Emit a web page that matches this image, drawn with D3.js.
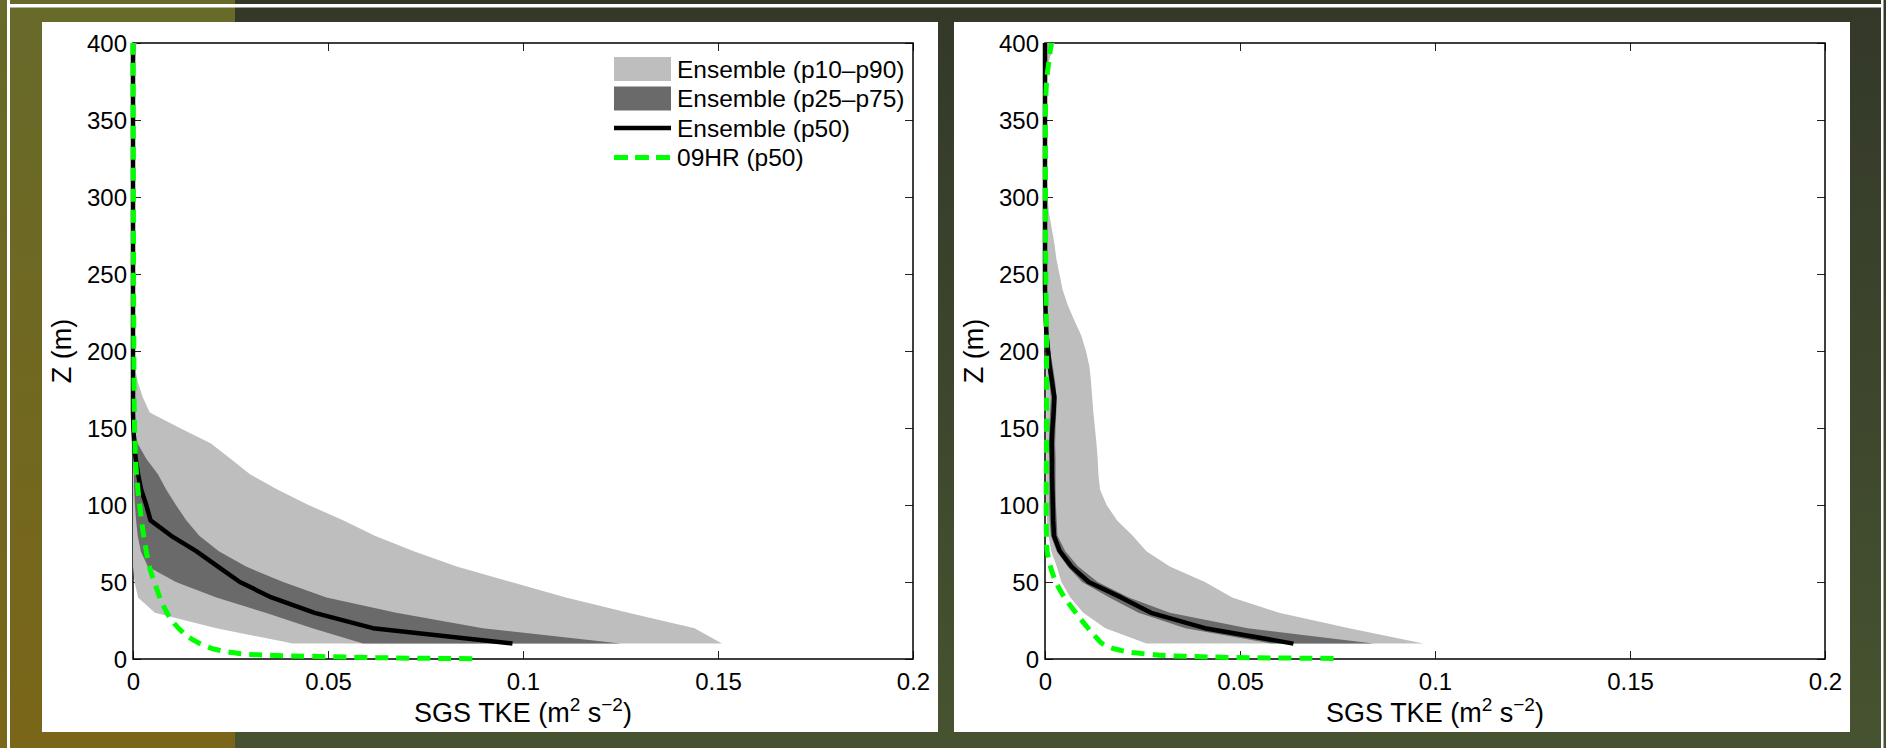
<!DOCTYPE html>
<html lang="en">
<head>
<meta charset="UTF-8">
<title>SGS TKE profiles</title>
<style>
  body { margin: 0; padding: 0; background: #333829; }
  svg { display: block; }
  text { font-family: "Liberation Sans", Arial, Helvetica, sans-serif; fill: #000; }
</style>
</head>
<body>
<svg id="chart" width="1886" height="748"></svg>
<script src="https://d3js.org/d3.v7.min.js"></script>
<script>
// heights of the ensemble statistics (m)
const heights = [10, 20, 30, 40, 50, 60, 70, 80, 90, 100,
  110, 120, 130, 140, 150, 160, 170, 180, 190, 200,
  210, 220, 230, 240, 250, 260, 270, 280, 290, 300,
  310, 320, 330, 340, 350, 360, 370, 380, 390, 400];

// left panel, SGS TKE (m2 s-2)
const leftP10 = [0.041, 0.0214, 0.0056, 0.0013, 0.0004, 0, 0, 0, 0, 0,
  0, 0, 0, 0, 0, 0, 0, 0, 0, 0,
  0, 0, 0, 0, 0, 0, 0, 0, 0, 0,
  0, 0, 0, 0, 0, 0, 0, 0, 0, 0];
const leftP25 = [0.059, 0.046, 0.034, 0.0214, 0.011, 0.0038, 0.002, 0.0012, 0.0008, 0.0005,
  0.0003, 0.0002, 0.0001, 0, 0, 0, 0, 0, 0, 0,
  0, 0, 0, 0, 0, 0, 0, 0, 0, 0,
  0, 0, 0, 0, 0, 0, 0, 0, 0, 0];
const leftP50 = [0.0973, 0.0615, 0.0466, 0.0355, 0.0274, 0.0218, 0.0162, 0.0098, 0.0045, 0.0034,
  0.0021, 0.0013, 0.0007, 0.0003, 0.0001, 0, 0, 0, 0, 0,
  0, 0, 0, 0, 0, 0, 0, 0, 0, 0,
  0, 0, 0, 0, 0, 0, 0, 0, 0, 0];
const leftP75 = [0.125, 0.0897, 0.0675, 0.0496, 0.0385, 0.029, 0.022, 0.017, 0.0137, 0.011,
  0.0085, 0.0064, 0.0034, 0.0012, 0.0004, 0.0001, 0, 0, 0, 0,
  0, 0, 0, 0, 0, 0, 0, 0, 0, 0,
  0, 0, 0, 0, 0, 0, 0, 0, 0, 0];
const leftP90 = [0.151, 0.144, 0.127, 0.111, 0.097, 0.083, 0.072, 0.062, 0.054, 0.045,
  0.037, 0.030, 0.025, 0.020, 0.012, 0.0043, 0.0025, 0.0012, 0.0005, 0.0003,
  0.0003, 0.0003, 0.0003, 0.0003, 0.0003, 0.0003, 0.0003, 0.0003, 0.0003, 0.0003,
  0.0003, 0.0003, 0.0003, 0.0003, 0.0003, 0.0003, 0.0004, 0.0005, 0.0006, 0.0009];

// 09HR run, finer grid near the ground
const leftHrZ = [0.2, 0.5, 1, 1.5, 2, 3, 4, 6, 8, 12, 18, 25, 35, 47, 60, 70, 86, 100, 120, 150, 200, 300, 400];
const leftHrX = [0.087, 0.073, 0.060, 0.050, 0.041, 0.030, 0.026, 0.0215, 0.019, 0.0157, 0.0125, 0.0100, 0.0077, 0.0059, 0.0042, 0.0034, 0.0024, 0.0017, 0.0009, 0.0004, 0.0002, 0.0001, 0];

// right panel
const rightP10 = [0.026, 0.0155, 0.0098, 0.0065, 0.0042, 0.003, 0.0016, 0.0009, 0.0005, 0.0003,
  0.0003, 0.0003, 0.0003, 0.0003, 0.0003, 0.0003, 0.0003, 0.0003, 0.0003, 0.0003,
  0.0003, 0.0003, 0.0003, 0.0003, 0.0003, 0.0001, 0.0001, 0.0001, 0.0001, 0.0001,
  0.0001, 0.0001, 0.0001, 0.0001, 0.0001, 0.0001, 0.0001, 0.0001, 0.0001, 0.0001];
const rightP25 = [0.058, 0.036, 0.024, 0.0165, 0.0095, 0.0058, 0.0030, 0.0015, 0.0012, 0.0011,
  0.0011, 0.0011, 0.0011, 0.0010, 0.0011, 0.0013, 0.0015, 0.0011, 0.0007, 0.0004,
  0.0002, 0, 0, 0, 0, 0, 0, 0, 0, 0,
  0, 0, 0, 0, 0, 0, 0, 0, 0, 0];
const rightP50 = [0.0637, 0.0410, 0.0272, 0.0195, 0.0112, 0.0068, 0.0038, 0.0023, 0.0021, 0.0020,
  0.0019, 0.0018, 0.0018, 0.0017, 0.0019, 0.0022, 0.0024, 0.0018, 0.0012, 0.0008,
  0.0004, 0.0002, 0.0001, 0, 0, 0, 0, 0, 0, 0,
  0, 0, 0, 0, 0, 0, 0, 0, 0, 0];
const rightP75 = [0.0842, 0.052, 0.032, 0.0215, 0.0135, 0.0085, 0.0052, 0.0032, 0.0030, 0.0028,
  0.0027, 0.0027, 0.0027, 0.0026, 0.0027, 0.0029, 0.0030, 0.0026, 0.0020, 0.0013,
  0.0007, 0.0003, 0.0001, 0, 0, 0, 0, 0, 0, 0,
  0, 0, 0, 0, 0, 0, 0, 0, 0, 0];
const rightP90 = [0.097, 0.078, 0.060, 0.048, 0.041, 0.032, 0.026, 0.0225, 0.0185, 0.0158,
  0.0141, 0.0137, 0.0135, 0.0132, 0.0128, 0.0124, 0.0121, 0.0118, 0.0114, 0.0105,
  0.0093, 0.0075, 0.0058, 0.0045, 0.0037, 0.0029, 0.0024, 0.0017, 0.0010, 0.0007,
  0.0005, 0.0005, 0.0005, 0.0005, 0.0005, 0.0005, 0.0005, 0.0006, 0.0012, 0.0025];

const rightHrZ = [0.4, 0.7, 1, 1.5, 2, 3, 4, 6, 10, 13, 22, 32, 40, 50, 60, 75, 100, 150, 200, 250, 300, 350, 375, 390, 400];
const rightHrX = [0.074, 0.058, 0.048, 0.040, 0.033, 0.027, 0.023, 0.0188, 0.0147, 0.0135, 0.0104, 0.0073, 0.0050, 0.0028, 0.0014, 0.0004, 0.0003, 0.0004, 0.0004, 0.0002, 0.0001, 0.0001, 0.0004, 0.0011, 0.0016];

const xTicks = [0, 0.05, 0.1, 0.15, 0.2];
const xTickLabels = ["0", "0.05", "0.1", "0.15", "0.2"];
const yTicks = [0, 50, 100, 150, 200, 250, 300, 350, 400];
const legendLabels = ["Ensemble (p10\u2013p90)", "Ensemble (p25\u2013p75)", "Ensemble (p50)", "09HR (p50)"];

const svg = d3.select("#chart");
const W = 1886, H = 748;

// background frame
const defs = svg.append("defs");
const g1 = defs.append("linearGradient").attr("id", "bgLeft").attr("x1", 0).attr("y1", 0).attr("x2", 0).attr("y2", 1);
g1.append("stop").attr("offset", "0%").attr("stop-color", "#676a2a");
g1.append("stop").attr("offset", "100%").attr("stop-color", "#7a6618");
const g2 = defs.append("linearGradient").attr("id", "bgRight").attr("x1", 0).attr("y1", 0).attr("x2", 0).attr("y2", 1);
g2.append("stop").attr("offset", "0%").attr("stop-color", "#333829");
g2.append("stop").attr("offset", "100%").attr("stop-color", "#475330");

svg.append("rect").attr("x", 0).attr("y", 0).attr("width", 235).attr("height", H).attr("fill", "url(#bgLeft)");
svg.append("rect").attr("x", 235).attr("y", 0).attr("width", W - 235).attr("height", H).attr("fill", "url(#bgRight)");
svg.append("rect").attr("x", 7).attr("y", 0).attr("width", 3).attr("height", H).attr("fill", "#fff");
svg.append("rect").attr("x", 7).attr("y", 4).attr("width", 1876).attr("height", 3.5).attr("fill", "#fff");
svg.append("rect").attr("x", 1881).attr("y", 0).attr("width", 2.5).attr("height", H).attr("fill", "#fff");

const panels = [
  { left: 42, p10: leftP10, p25: leftP25, p50: leftP50, p75: leftP75, p90: leftP90, hrZ: leftHrZ, hrX: leftHrX, legend: true },
  { left: 954, p10: rightP10, p25: rightP25, p50: rightP50, p75: rightP75, p90: rightP90, hrZ: rightHrZ, hrX: rightHrX, legend: false }
];

const plotW = 780, plotH = 616;
const x = d3.scaleLinear().domain([0, 0.2]).range([0, plotW]);
const y = d3.scaleLinear().domain([0, 400]).range([plotH, 0]);

const band = d3.area().x0(d => x(d.lo)).x1(d => x(d.hi)).y(d => y(d.z));
const prof = d3.line().x(d => x(d.v)).y(d => y(d.z));
const hrLine = d3.line().x(d => x(d.v)).y(d => y(d.z)).curve(d3.curveMonotoneY);

const lightGray = "#bebebe", darkGray = "#6a6a6a", green = "#00ff00";

panels.forEach(p => {
  svg.append("rect")
    .attr("x", p.left).attr("y", 22).attr("width", 896).attr("height", 710)
    .attr("fill", "#fff");

  const g = svg.append("g").attr("transform", `translate(${p.left + 91},43)`);

  // axes (drawn under the data, like MATLAB)
  g.append("g").attr("transform", `translate(0,${plotH})`)
    .call(d3.axisBottom(x).tickValues(xTicks).tickSizeInner(-8).tickSizeOuter(0).tickPadding(14)
      .tickFormat((d, i) => xTickLabels[i]));
  const left = g.append("g")
    .call(d3.axisLeft(y).tickValues(yTicks).tickSizeInner(-8).tickSizeOuter(0).tickPadding(6));
  g.append("g").call(d3.axisTop(x).tickValues(xTicks).tickSizeInner(-8).tickSizeOuter(0).tickFormat(""));
  g.append("g").attr("transform", `translate(${plotW},0)`)
    .call(d3.axisRight(y).tickValues(yTicks).tickSizeInner(-8).tickSizeOuter(0).tickFormat(""));
  g.selectAll(".domain").remove();
  g.selectAll(".tick line").attr("stroke", "#222").attr("stroke-width", 1);
  g.selectAll(".tick text").attr("font-size", 24).attr("font-family", null).attr("fill", "#000");
  left.selectAll(".tick text").attr("dy", "0.35em");

  g.append("rect").attr("width", plotW).attr("height", plotH)
    .attr("fill", "none").attr("stroke", "#000").attr("stroke-width", 1.5);

  const outer = heights.map((z, i) => ({ z, lo: p.p10[i], hi: p.p90[i] }));
  const inner = heights.map((z, i) => ({ z, lo: p.p25[i], hi: p.p75[i] }));
  const med = heights.map((z, i) => ({ z, v: p.p50[i] }));
  const hr = p.hrZ.map((z, i) => ({ z, v: p.hrX[i] }));

  g.append("path").attr("d", band(outer)).attr("fill", lightGray);
  g.append("path").attr("d", band(inner)).attr("fill", darkGray);
  g.append("path").attr("d", prof(med)).attr("fill", "none")
    .attr("stroke", "#000").attr("stroke-width", 4.5).attr("stroke-linejoin", "round");
  g.append("path").attr("d", hrLine(hr)).attr("fill", "none")
    .attr("stroke", green).attr("stroke-width", 5).attr("stroke-dasharray", "13 8");

  // axis titles
  const xt = g.append("text")
    .attr("x", plotW / 2).attr("y", 679)
    .attr("text-anchor", "middle").attr("font-size", 27);
  xt.append("tspan").text("SGS TKE (m");
  xt.append("tspan").attr("dy", -11).attr("font-size", 19).text("2");
  xt.append("tspan").attr("dy", 11).text(" s");
  xt.append("tspan").attr("dy", -11).attr("font-size", 19).text("\u22122");
  xt.append("tspan").attr("dy", 11).text(")");

  g.append("text")
    .attr("transform", `translate(-62,${plotH / 2}) rotate(-90)`)
    .attr("text-anchor", "middle").attr("font-size", 27)
    .text("Z (m)");

  if (p.legend) {
    const lg = g.append("g").attr("transform", "translate(481,26)");
    const rowH = 29.5;
    legendLabels.forEach((lab, i) => {
      const cy = i * rowH;
      if (i === 0 || i === 1) {
        lg.append("rect").attr("x", 0).attr("y", cy - 12).attr("width", 57).attr("height", 24)
          .attr("fill", i === 0 ? lightGray : darkGray);
      } else if (i === 2) {
        lg.append("line").attr("x1", 0).attr("x2", 57).attr("y1", cy).attr("y2", cy)
          .attr("stroke", "#000").attr("stroke-width", 4.5);
      } else {
        lg.append("line").attr("x1", 0).attr("x2", 57).attr("y1", cy).attr("y2", cy)
          .attr("stroke", green).attr("stroke-width", 5).attr("stroke-dasharray", "14 7");
      }
      lg.append("text").attr("x", 63).attr("y", cy + 8.5).attr("font-size", 24.5).text(lab);
    });
  }
});
</script>
</body>
</html>
